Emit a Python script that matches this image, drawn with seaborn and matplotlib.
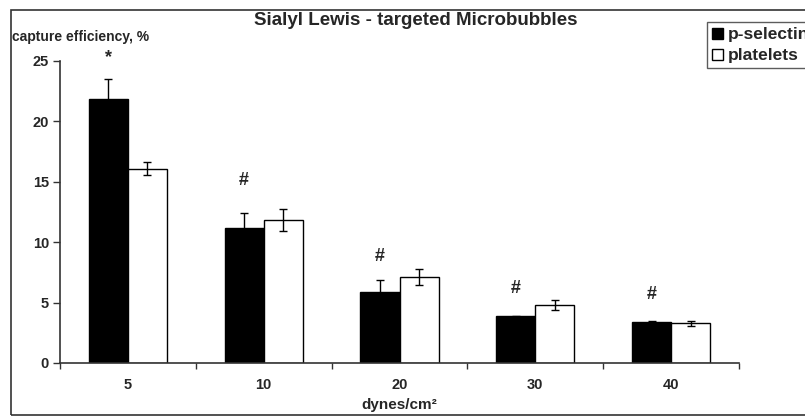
import matplotlib
matplotlib.use("Agg")
import matplotlib.pyplot as plt
from matplotlib.patches import Rectangle
import numpy as np
import pandas as pd
import seaborn as sns

sns.set_style("white")
plt.rcParams["font.family"] = ["Liberation Sans", "DejaVu Sans"]
plt.rcParams["font.weight"] = "bold"

# values
shear = ["5", "10", "20", "30", "40"]
pselectin = [21.85, 11.15, 5.9, 3.85, 3.4]
pselectin_err = [1.65, 1.25, 1.0, 0.08, 0.08]
platelets = [16.1, 11.85, 7.1, 4.8, 3.3]
platelets_err = [0.55, 0.9, 0.65, 0.4, 0.2]
marks = ["*", "#", "#", "#", "#"]
mark_y = [25.3, 15.1, 8.8, 6.2, 5.7]

df = pd.DataFrame({
    "shear": shear * 2,
    "value": pselectin + platelets,
    "err": pselectin_err + platelets_err,
    "group": ["p-selectin"] * 5 + ["platelets"] * 5,
})

fig = plt.figure(figsize=(8.05, 4.16), dpi=100)
ax = fig.add_axes([60 / 805, 53 / 416, 679 / 805, 302 / 416])

sns.barplot(data=df, x="shear", y="value", hue="group",
            palette={"p-selectin": "black", "platelets": "white"},
            edgecolor="black", linewidth=1.0, width=0.575, gap=0,
            errorbar=None, ax=ax)

# error bars on top of each bar
for cont, (_, sub) in zip(ax.containers, df.groupby("group", sort=False)):
    xs = [p.get_x() + p.get_width() / 2 for p in cont.patches]
    ax.errorbar(xs, sub["value"], yerr=sub["err"], fmt="none",
                ecolor="black", elinewidth=1.0, capsize=3, capthick=1.0)

# significance marks above the p-selectin bars
for p, m, y in zip(ax.containers[0].patches, marks, mark_y):
    ax.text(p.get_x() + p.get_width() / 2, y, m, ha="center", va="center",
            fontsize=13, fontweight="bold")

ax.set_xlim(-0.5, 4.5)
ax.set_ylim(0, 25)
ax.set_yticks([0, 5, 10, 15, 20, 25])
ax.set_xticks(np.arange(-0.5, 5, 1), minor=True)
ax.tick_params(axis="x", which="major", length=0, pad=11, labelsize=10.5)
ax.tick_params(axis="x", which="minor", length=4, width=1, color="#333333",
               direction="out", bottom=True)
ax.tick_params(axis="y", length=5, width=1, color="#333333", direction="out",
               left=True, labelsize=10.5, pad=3)
for lab in ax.get_xticklabels() + ax.get_yticklabels():
    lab.set_fontweight("bold")
for s in ["top", "right"]:
    ax.spines[s].set_visible(False)
for s in ["left", "bottom"]:
    ax.spines[s].set_color("#333333")
    ax.spines[s].set_linewidth(1.2)

ax.set_xlabel("dynes/cm²", fontsize=11, fontweight="bold", labelpad=4)
ax.set_ylabel("")

leg = ax.legend(loc="upper left", bbox_to_anchor=(707 / 805, 1 - 22 / 416),
                bbox_transform=fig.transFigure, frameon=True, fancybox=False,
                fontsize=12.5, handlelength=0.6, handleheight=0.6,
                handletextpad=0.3, borderpad=0.3, labelspacing=0.35,
                borderaxespad=0)
leg.get_frame().set_edgecolor("#333333")
leg.get_frame().set_linewidth(1.0)
for t in leg.get_texts():
    t.set_fontweight("bold")

fig.text(416 / 805, 1 - 25 / 416, "Sialyl Lewis - targeted Microbubbles",
         ha="center", va="baseline", fontsize=13.5, fontweight="bold")
fig.text(12 / 805, 1 - 37 / 416, "capture efficiency, %", ha="left",
         va="center", fontsize=10, fontweight="bold")

# outer frame of the picture
fig.patches.append(Rectangle((11 / 805, 1 / 416), 1.0, 405 / 416,
                             transform=fig.transFigure, fill=False,
                             edgecolor="#333333", linewidth=1.2))

fig.savefig("out.png", dpi=100)
